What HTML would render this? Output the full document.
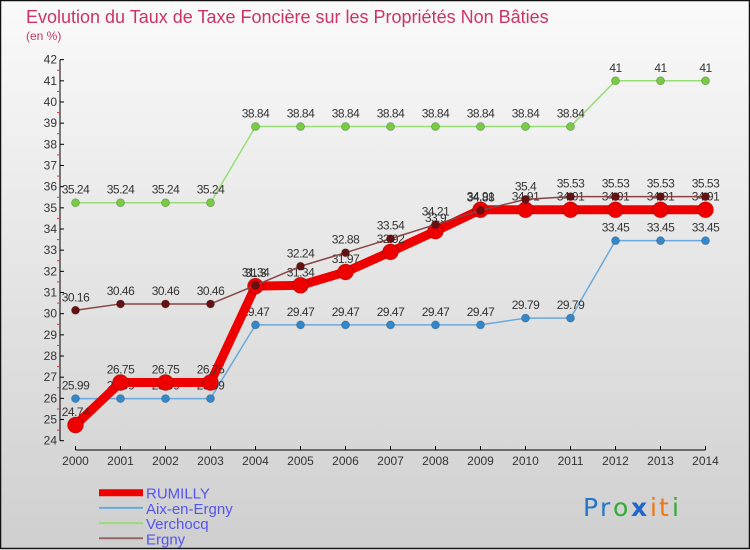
<!DOCTYPE html>
<html><head><meta charset="utf-8"><style>
html,body{margin:0;padding:0}
body{width:750px;height:550px;overflow:hidden;font-family:"Liberation Sans",sans-serif}
</style></head><body>
<svg id="chart" width="750" height="550" xmlns="http://www.w3.org/2000/svg" style="display:block" font-family="Liberation Sans, sans-serif">
<defs><linearGradient id="bg" x1="0" y1="0" x2="0" y2="1"><stop offset="0" stop-color="#fafafa"/><stop offset="1" stop-color="#cfcfcf"/></linearGradient></defs>
<rect x="0.5" y="0.5" width="749" height="548" fill="url(#bg)" stroke="#111" stroke-width="1.5"/>
<text x="26" y="23" font-size="18" fill="#cc3366">Evolution du Taux de Taxe Foncière sur les Propriétés Non Bâties</text>
<text x="26" y="40" font-size="12" fill="#cc3366">(en %)</text>
<g id="axes"></g>
<g id="series"></g>
<g id="legend"></g>
<g font-size="25" font-family="DejaVu Sans,sans-serif">
<text x="583" y="516" fill="#2277cc">P</text><text x="600" y="516" fill="#2277cc">r</text><text x="613" y="516" fill="#33aa33">o</text><text x="631" y="516" fill="#2266cc" font-weight="bold">x</text><text x="650" y="516" fill="#ee7711">i</text><text x="659" y="516" fill="#ee7711">t</text><text x="672" y="516" fill="#33aa33">i</text>
</g>
</svg>
<script>
const years=[2000,2001,2002,2003,2004,2005,2006,2007,2008,2009,2010,2011,2012,2013,2014];
const rumilly=[24.74,26.75,26.75,26.75,31.3,31.34,31.97,32.92,33.9,34.91,34.91,34.91,34.91,34.91,34.91];
const aix=[25.99,25.99,25.99,25.99,29.47,29.47,29.47,29.47,29.47,29.47,29.79,29.79,33.45,33.45,33.45];
const verchocq=[35.24,35.24,35.24,35.24,38.84,38.84,38.84,38.84,38.84,38.84,38.84,38.84,41,41,41];
const ergny=[30.16,30.46,30.46,30.46,31.34,32.24,32.88,33.54,34.21,34.88,35.4,35.53,35.53,35.53,35.53];
const yTicks=[24,25,26,27,28,29,30,31,32,33,34,35,36,37,38,39,40,41,42];
const NS="http://www.w3.org/2000/svg";
const x=i=>75.5+i*45;
const y=v=>440.7-(v-24)*21.17;
function mk(tag,attrs,parent){const e=document.createElementNS(NS,tag);for(const k in attrs)e.setAttribute(k,attrs[k]);parent.appendChild(e);return e;}
const axes=document.getElementById('axes');
let ya=mk('line',{x1:60,y1:y(42),x2:60,y2:y(24),stroke:'#000'},axes);


let xa=mk('line',{x1:x(0),y1:450,x2:x(14),y2:450,stroke:'#000'},axes);


yTicks.forEach(v=>{
 mk('line',{x1:60,y1:y(v),x2:64,y2:y(v),stroke:'#000'},axes);
 if(v<42) mk('line',{x1:57,y1:y(v+0.5),x2:60,y2:y(v+0.5),stroke:'#e33'},axes);
 const t=mk('text',{x:57,y:y(v)+4,'font-size':12,fill:'#333','text-anchor':'end'},axes);t.textContent=v;
 
 
});
years.forEach((yr,i)=>{
 mk('line',{x1:x(i),y1:446,x2:x(i),y2:450,stroke:'#000'},axes);
 const t=mk('text',{x:x(i),y:465,'font-size':12,fill:'#333','text-anchor':'middle'},axes);t.textContent=yr;
 
 
});
const series=[
 {name:'verchocq',data:verchocq,color:'#99dd77',dot:'#77cc44',w:1.5,r:4},
 {name:'aix-en-ergny',data:aix,color:'#6aa8dd',dot:'#3388cc',w:1.5,r:4},
 {name:'rumilly',data:rumilly,color:'#ee0000',dot:'#ee0000',w:9,r:8},
 {name:'ergny',data:ergny,color:'#884444',dot:'#661111',w:1.5,r:4},
];
const sg=document.getElementById('series');
series.forEach(s=>{
 const g=mk('g',{},sg);
 
 
 const p=mk('polyline',{points:s.data.map((v,i)=>x(i)+','+y(v)).join(' '),fill:'none',stroke:s.color,'stroke-width':s.w,'stroke-linejoin':'round'},g);
 
 
 s.data.forEach((v,i)=>{
  const c=mk('circle',{cx:x(i),cy:y(v),r:s.r,fill:s.dot,stroke:'rgba(0,0,0,0.2)'},g);
  
  
  const t=mk('text',{x:x(i),y:y(v)-9,'font-size':12,fill:'#333','text-anchor':'middle','letter-spacing':'-0.5'},g);t.textContent=v;
  
  
 });
});
const leg=[['RUMILLY','#ee0000',7],['Aix-en-Ergny','#6aa8dd',2],['Verchocq','#99dd77',2],['Ergny','#996666',2]];
const lg=document.getElementById('legend');
leg.forEach((l,i)=>{
 const yy=492.7+i*15.2;
 const g=mk('g',{},lg);
 
 
 mk('line',{x1:99,y1:yy,x2:143,y2:yy,stroke:l[1],'stroke-width':l[2]},g);
 const t=mk('text',{x:146,y:yy+6,'font-size':15,fill:'#5555ee'},g);t.textContent=l[0];
});
</script>
</body></html>
